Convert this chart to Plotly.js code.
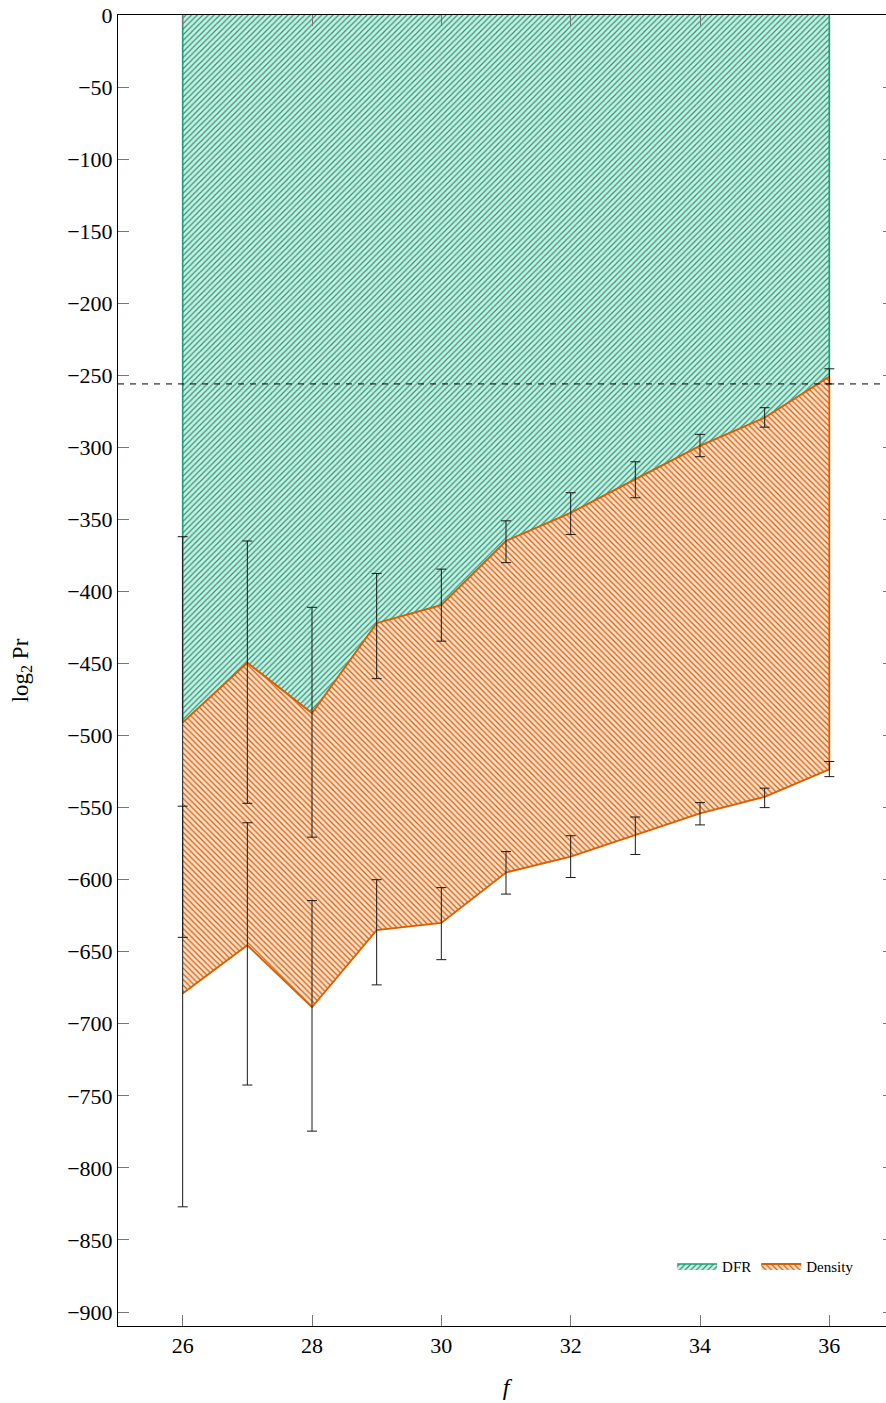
<!DOCTYPE html>
<html>
<head>
<meta charset="utf-8">
<script src="https://cdn.plot.ly/plotly-3.0.1.min.js"></script>
<style>
html, body { margin: 0; padding: 0; overflow: hidden; background: #fff; }
#chart { width: 900px; height: 1403px; }
</style>
</head>
<body>
<div id="chart"></div>
<script>
// ---- data ----
const fValues = [26, 27, 28, 29, 30, 31, 32, 33, 34, 35, 36];

// DFR bound (upper edge of Density region)
const dfrLine = [-491, -449.5, -484.5, -422, -409.5, -365, -345.5, -322, -299, -279.5, -251];
const dfrErrHigh = [-362, -365, -411, -387.5, -384.5, -351, -331.5, -310, -291, -272.5, -245.5];
const dfrErrLow = [-640, -547, -570.5, -460.5, -434.5, -380, -360.5, -335, -306.5, -286, -256];

// Density lower bound
const densLine = [-679, -645.5, -688.5, -635, -630, -595, -584, -569, -554, -542.5, -523.5];
const densErrHigh = [-549, -560.5, -614.5, -600, -605.5, -580.5, -569.5, -556.5, -546.5, -536.5, -518];
const densErrLow = [-827, -742.5, -774.5, -673, -655.5, -610, -598.5, -582.5, -562, -550, -528.5];

const topValue = 0;
const securityLevel = -256;

const xTicks = [26, 28, 30, 32, 34, 36];
const yTicks = [0, -50, -100, -150, -200, -250, -300, -350, -400, -450, -500, -550, -600, -650, -700, -750, -800, -850, -900];
const yTickText = yTicks.map(v => (v < 0 ? '\u2212' + Math.abs(v) : String(v)));

// ---- styles ----
const serif = '"Liberation Serif", "DejaVu Serif", serif';
const green = '#1b9e77';
const greenBg = '#d1ece4';
const orange = '#d95f02';
const orangeBg = '#f7dfcc';

// polygons built from the arrays
const dfrX = [fValues[0]].concat(fValues, [fValues[fValues.length - 1]]);
const dfrY = [topValue].concat(dfrLine, [topValue]);

const densX = fValues.concat(fValues.slice().reverse());
const densY = dfrLine.concat(densLine.slice().reverse());

const errTrace = (line, hi, lo) => ({
  x: fValues,
  y: line,
  type: 'scatter',
  mode: 'markers',
  marker: { size: 1, color: 'rgba(0,0,0,0)' },
  showlegend: false,
  hoverinfo: 'skip',
  error_y: {
    type: 'data',
    symmetric: false,
    array: hi.map((v, i) => v - line[i]),
    arrayminus: line.map((v, i) => v - lo[i]),
    color: '#1a1a1a',
    thickness: 1,
    width: 5
  }
});

const traces = [
  {
    x: dfrX, y: dfrY, type: 'scatter', mode: 'lines', name: 'DFR',
    fill: 'toself', fillcolor: greenBg,
    fillpattern: { shape: '/', fgcolor: green, bgcolor: greenBg, size: 4, solidity: 0.3 },
    line: { color: green, width: 1.6 }
  },
  {
    x: densX, y: densY, type: 'scatter', mode: 'lines', name: 'Density',
    fill: 'toself', fillcolor: orangeBg,
    fillpattern: { shape: '\\', fgcolor: orange, bgcolor: orangeBg, size: 4, solidity: 0.3 },
    line: { color: orange, width: 1.8 }
  },
  errTrace(dfrLine, dfrErrHigh, dfrErrLow),
  errTrace(densLine, densErrHigh, densErrLow)
];

const axisCommon = {
  showline: true, linecolor: '#000', linewidth: 1, mirror: 'ticks',
  ticks: 'inside', ticklen: 11, tickwidth: 1, tickcolor: '#777',
  showgrid: false, zeroline: false,
  tickfont: { family: serif, size: 22, color: '#000' }
};

const layout = {
  width: 900, height: 1403,
  margin: { l: 118, r: 6, t: 15, b: 77 },
  paper_bgcolor: '#fff', plot_bgcolor: '#fff',
  font: { family: serif, color: '#000' },
  xaxis: Object.assign({}, axisCommon, {
    range: [25, 37], tickmode: 'array', tickvals: xTicks, ticktext: xTicks.map(String),
    title: { text: '<i>f</i>', font: { family: serif, size: 24 }, standoff: 20 }
  }),
  yaxis: Object.assign({}, axisCommon, {
    range: [-909.7, 0], tickmode: 'array', tickvals: yTicks, ticktext: yTickText,
    title: { text: 'log<sub>2</sub> Pr', font: { family: serif, size: 23 }, standoff: 32 }
  }),
  shapes: [{
    type: 'line', xref: 'paper', yref: 'y', x0: 0, x1: 1,
    y0: securityLevel, y1: securityLevel,
    line: { color: '#000', width: 1, dash: '6px,6px' }
  }],
  legend: {
    orientation: 'h', x: 0.955, y: 0.033, xanchor: 'right', yanchor: 'bottom',
    bgcolor: 'rgba(255,255,255,0)', borderwidth: 0,
    font: { size: 15, family: serif },
    itemwidth: 40, traceorder: 'normal'
  },
  showlegend: true
};

Plotly.newPlot('chart', traces, layout, { displayModeBar: false, staticPlot: true });
</script>
</body>
</html>
